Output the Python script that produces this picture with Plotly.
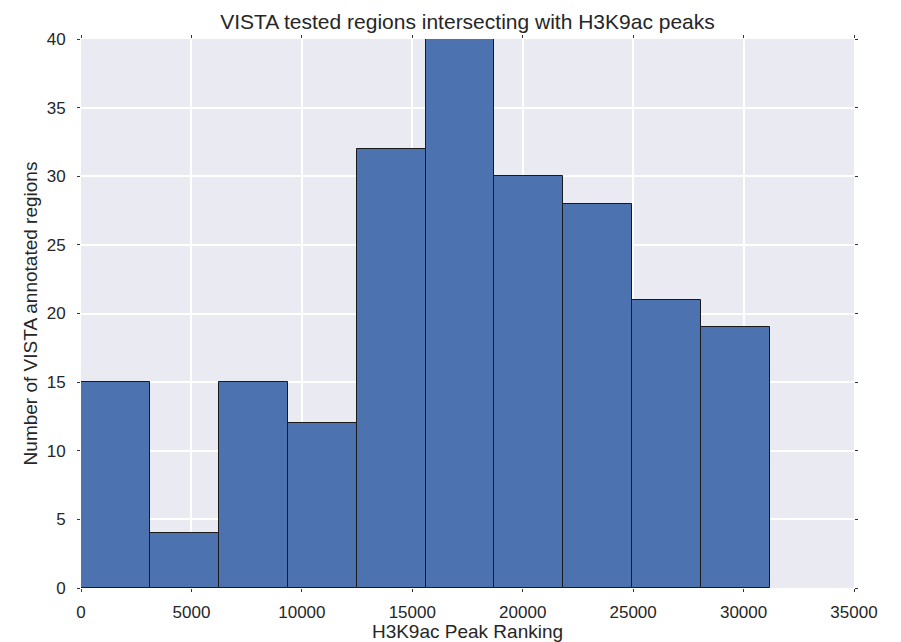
import plotly.graph_objects as go

# Histogram bin edges (H3K9ac peak ranking) and counts
bin_edges = [0, 3120, 6240, 9360, 12480, 15600, 18720, 21840, 24960, 28080, 31200]
counts = [15, 4, 15, 12, 32, 40, 30, 28, 21, 19]

x_ticks = [0, 5000, 10000, 15000, 20000, 25000, 30000, 35000]
y_ticks = [0, 5, 10, 15, 20, 25, 30, 35, 40]

centers = [(a + b) / 2 for a, b in zip(bin_edges[:-1], bin_edges[1:])]
widths = [b - a for a, b in zip(bin_edges[:-1], bin_edges[1:])]

FONT = "Liberation Sans, Arial, sans-serif"
TXT = "#262626"

fig = go.Figure(
    go.Bar(
        x=centers,
        y=counts,
        width=widths,
        marker=dict(color="#4C72B0", line=dict(color="#1a1a1a", width=1)),
        hoverinfo="x+y",
    )
)

fig.update_layout(
    width=901,
    height=642,
    margin=dict(l=81, r=47, t=39, b=54),
    paper_bgcolor="white",
    plot_bgcolor="#EAEAF2",
    showlegend=False,
    font=dict(family=FONT, color=TXT, size=17),
    title=dict(
        text="VISTA tested regions intersecting with H3K9ac peaks",
        x=(81 + 854) / 2 / 901,
        xanchor="center",
        y=1 - 22 / 642,
        yanchor="middle",
        font=dict(family=FONT, size=21, color=TXT),
    ),
    bargap=0,
)

fig.update_xaxes(
    range=[0, 35000],
    tickvals=x_ticks,
    ticktext=[str(v) for v in x_ticks],
    showgrid=True,
    gridcolor="white",
    gridwidth=1.5,
    zeroline=False,
    showline=False,
    ticks="outside",
    ticklen=3,
    tickcolor="#333333",
    tickfont=dict(size=17, color=TXT),
    ticklabelstandoff=6,
    title=dict(text="H3K9ac Peak Ranking", font=dict(size=19, color=TXT), standoff=4),
    mirror="ticks",
    automargin=False,
)

fig.update_yaxes(
    range=[0, 40],
    tickvals=y_ticks,
    ticktext=[str(v) for v in y_ticks],
    showgrid=True,
    gridcolor="white",
    gridwidth=1.5,
    zeroline=False,
    showline=False,
    ticks="outside",
    ticklen=3,
    tickcolor="#333333",
    tickfont=dict(size=17, color=TXT),
    ticklabelstandoff=8,
    title=dict(text="Number of VISTA annotated regions", font=dict(size=19, color=TXT), standoff=4),
    mirror="ticks",
    automargin=False,
)

fig.write_html("out.html")
